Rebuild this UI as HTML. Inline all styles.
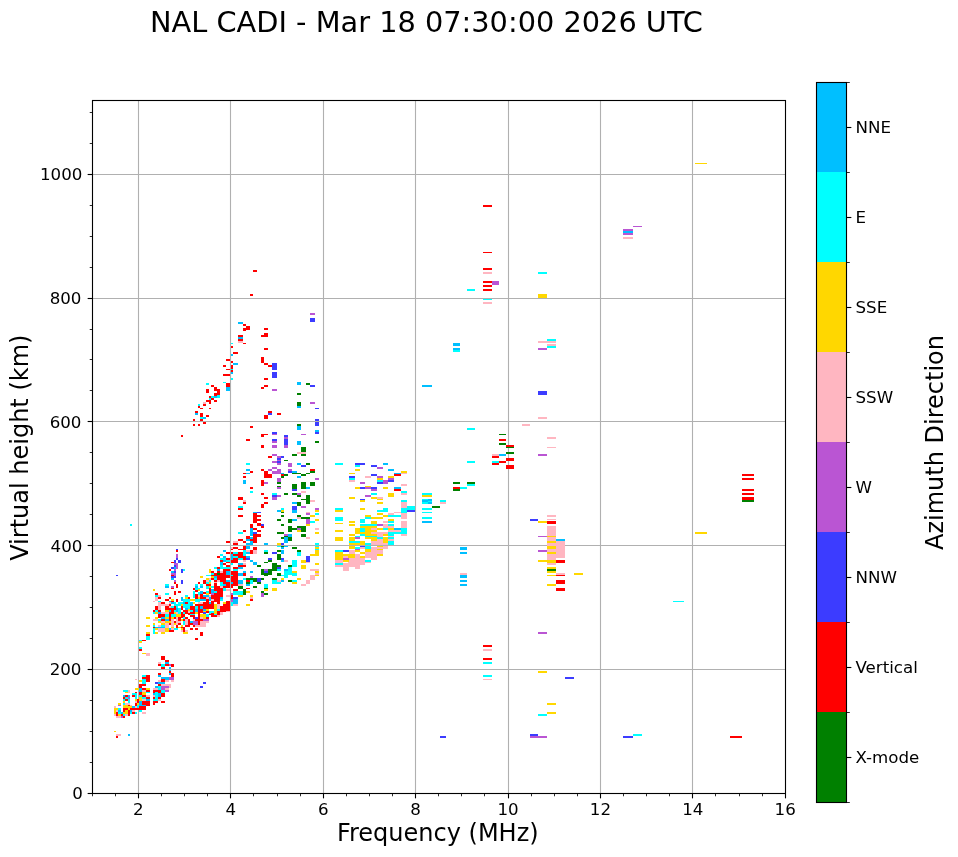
<!DOCTYPE html>
<html lang="en"><head><meta charset="utf-8"><title>NAL CADI - Mar 18 07:30:00 2026 UTC</title>
<style>html,body{margin:0;padding:0;background:#fff;}body{width:958px;height:857px;overflow:hidden;}svg{display:block;will-change:transform;}text{font-family:"DejaVu Sans","Liberation Sans",sans-serif;fill:#000;}</style></head><body>
<svg width="958" height="857" viewBox="0 0 958 857">
<rect x="0" y="0" width="958" height="857" fill="#fff"/>
<g stroke="#b0b0b0" stroke-width="1.11" fill="none">
<line x1="138.50" y1="100.5" x2="138.50" y2="793.5"/>
<line x1="230.50" y1="100.5" x2="230.50" y2="793.5"/>
<line x1="323.50" y1="100.5" x2="323.50" y2="793.5"/>
<line x1="415.50" y1="100.5" x2="415.50" y2="793.5"/>
<line x1="508.50" y1="100.5" x2="508.50" y2="793.5"/>
<line x1="600.50" y1="100.5" x2="600.50" y2="793.5"/>
<line x1="692.50" y1="100.5" x2="692.50" y2="793.5"/>
<line x1="92.5" y1="669.50" x2="785.5" y2="669.50"/>
<line x1="92.5" y1="545.50" x2="785.5" y2="545.50"/>
<line x1="92.5" y1="421.50" x2="785.5" y2="421.50"/>
<line x1="92.5" y1="298.50" x2="785.5" y2="298.50"/>
<line x1="92.5" y1="174.50" x2="785.5" y2="174.50"/>
</g>
<g id="cells" shape-rendering="crispEdges">
<g fill="#ff0000"><rect x="483" y="205" width="9" height="2"/><rect x="483" y="252" width="9" height="1"/><rect x="483" y="268" width="9" height="2"/></g><g fill="#ffb6c1"><rect x="483" y="272" width="9" height="2"/></g><g fill="#ff0000"><rect x="483" y="281" width="9" height="2"/></g><g fill="#ba55d3"><rect x="492" y="281" width="7" height="4"/></g><g fill="#ff0000"><rect x="483" y="285" width="9" height="2"/><rect x="483" y="289" width="9" height="2"/></g><g fill="#00ffff"><rect x="467" y="289" width="8" height="2"/><rect x="483" y="298.5" width="9" height="1.5"/></g><g fill="#ffb6c1"><rect x="483" y="302" width="9" height="2"/></g><g fill="#00ffff"><rect x="538" y="272" width="9" height="2"/></g><g fill="#ffd700"><rect x="538" y="294" width="9" height="4"/></g><g fill="#00bfff"><rect x="453" y="343" width="7" height="3"/><rect x="453" y="348" width="7" height="2"/></g><g fill="#00ffff"><rect x="453" y="350" width="7" height="2"/></g><g fill="#00bfff"><rect x="422" y="385" width="10" height="2"/></g><g fill="#00ffff"><rect x="547" y="339" width="9" height="2"/></g><g fill="#ffb6c1"><rect x="538" y="341" width="18" height="2"/><rect x="547" y="344" width="9" height="2"/></g><g fill="#00ffff"><rect x="547" y="346" width="9" height="2"/></g><g fill="#ba55d3"><rect x="538" y="348" width="9" height="2"/></g><g fill="#3c3cff"><rect x="538" y="391" width="9" height="4"/></g><g fill="#ffb6c1"><rect x="538" y="417" width="9" height="2"/><rect x="522" y="424" width="8" height="2"/></g><g fill="#00ffff"><rect x="467" y="428" width="8" height="2"/></g><g fill="#008000"><rect x="499" y="433.5" width="7" height="1"/></g><g fill="#ff0000"><rect x="499" y="439" width="7" height="2"/></g><g fill="#008000"><rect x="499" y="443" width="7" height="2"/></g><g fill="#ff0000"><rect x="506" y="445" width="8" height="2"/></g><g fill="#008000"><rect x="506" y="447" width="8" height="1"/></g><g fill="#ffb6c1"><rect x="547" y="437" width="9" height="2"/><rect x="547" y="447" width="9" height="1"/></g><g fill="#008000"><rect x="506" y="452" width="8" height="2"/></g><g fill="#ffb6c1"><rect x="492" y="454" width="7" height="2"/></g><g fill="#00bfff"><rect x="499" y="454" width="7" height="2"/></g><g fill="#ff0000"><rect x="492" y="456" width="7" height="2"/></g><g fill="#ba55d3"><rect x="538" y="454" width="9" height="2"/></g><g fill="#ff0000"><rect x="506" y="458" width="8" height="3"/></g><g fill="#00ffff"><rect x="467" y="461" width="8" height="2"/><rect x="492" y="461" width="7" height="2"/></g><g fill="#ff0000"><rect x="499" y="461" width="7" height="2"/><rect x="492" y="463" width="7" height="2"/><rect x="506" y="465" width="8" height="1"/><rect x="506" y="466" width="8" height="3"/></g><g fill="#008000"><rect x="453" y="482" width="7" height="2"/><rect x="467" y="482" width="8" height="2"/></g><g fill="#00ffff"><rect x="467" y="484" width="8" height="2"/></g><g fill="#ff0000"><rect x="453" y="487" width="7" height="2"/></g><g fill="#00ffff"><rect x="460" y="487" width="7" height="2"/></g><g fill="#008000"><rect x="453" y="489" width="7" height="2"/></g><g fill="#00ffff"><rect x="422" y="493" width="10" height="2"/></g><g fill="#ffd700"><rect x="422" y="495" width="10" height="2"/></g><g fill="#00bfff"><rect x="422" y="499" width="10" height="1.5"/></g><g fill="#00ffff"><rect x="422" y="500.5" width="10" height="1.5"/></g><g fill="#00bfff"><rect x="422" y="502" width="10" height="2"/></g><g fill="#00ffff"><rect x="440" y="500" width="6" height="2"/></g><g fill="#ffb6c1"><rect x="440" y="502" width="6" height="2"/></g><g fill="#008000"><rect x="432" y="506" width="8" height="2"/></g><g fill="#00ffff"><rect x="422" y="508" width="10" height="2"/><rect x="422" y="512" width="10" height="1"/><rect x="422" y="517" width="10" height="2"/></g><g fill="#00bfff"><rect x="422" y="521" width="10" height="2"/></g><g fill="#ffb6c1"><rect x="547" y="515" width="9" height="2"/><rect x="547" y="519" width="9" height="1"/></g><g fill="#3c3cff"><rect x="530" y="519" width="8" height="2"/></g><g fill="#ffd700"><rect x="538" y="521" width="9" height="2"/></g><g fill="#ff0000"><rect x="547" y="521" width="9" height="2.5"/></g><g fill="#ffb6c1"><rect x="547" y="526" width="9" height="39"/><rect x="556" y="541" width="9" height="17"/></g><g fill="#ba55d3"><rect x="538" y="536" width="9" height="1"/></g><g fill="#ffd700"><rect x="547" y="536" width="9" height="1"/></g><g fill="#00bfff"><rect x="556" y="539" width="9" height="2"/></g><g fill="#ffd700"><rect x="547" y="541" width="9" height="2"/><rect x="547" y="546" width="9" height="3"/></g><g fill="#ba55d3"><rect x="538" y="550" width="9" height="2"/></g><g fill="#ffd700"><rect x="547" y="552" width="9" height="2"/><rect x="538" y="560" width="18" height="2"/><rect x="547" y="560" width="9" height="3"/></g><g fill="#ff0000"><rect x="556" y="560" width="9" height="3"/></g><g fill="#00bfff"><rect x="460" y="547" width="7" height="3"/><rect x="460" y="552" width="7" height="2"/></g><g fill="#ffb6c1"><rect x="460" y="573" width="7" height="2"/></g><g fill="#00bfff"><rect x="460" y="575" width="7" height="3"/><rect x="460" y="580" width="7" height="2"/><rect x="460" y="584" width="7" height="2"/></g><g fill="#ffd700"><rect x="547" y="567" width="9" height="2"/></g><g fill="#008000"><rect x="547" y="569" width="9" height="2"/></g><g fill="#ffd700"><rect x="547" y="571" width="9" height="2"/><rect x="547" y="575" width="9" height="1"/></g><g fill="#ffb6c1"><rect x="556" y="573" width="9" height="2"/></g><g fill="#ff0000"><rect x="556" y="575" width="9" height="1"/></g><g fill="#ffd700"><rect x="574" y="573" width="9" height="2"/></g><g fill="#ff0000"><rect x="556" y="580" width="9" height="4"/></g><g fill="#ffd700"><rect x="547" y="584" width="9" height="2"/></g><g fill="#ff0000"><rect x="556" y="588" width="9" height="3"/></g><g fill="#ba55d3"><rect x="538" y="632" width="9" height="2"/></g><g fill="#ff0000"><rect x="483" y="645" width="9" height="2"/></g><g fill="#ffb6c1"><rect x="483" y="649" width="9" height="2"/></g><g fill="#ff0000"><rect x="483" y="658" width="9" height="2"/></g><g fill="#00ffff"><rect x="483" y="662" width="9" height="2"/></g><g fill="#ffd700"><rect x="538" y="671" width="9" height="2"/></g><g fill="#3c3cff"><rect x="565" y="677" width="9" height="2"/></g><g fill="#00ffff"><rect x="483" y="675" width="9" height="2"/></g><g fill="#ffb6c1"><rect x="483" y="679" width="9" height="1"/></g><g fill="#ffd700"><rect x="547" y="703" width="9" height="2"/><rect x="547" y="712" width="9" height="2"/></g><g fill="#00ffff"><rect x="538" y="714" width="9" height="2"/></g><g fill="#3c3cff"><rect x="530" y="734" width="8" height="2"/></g><g fill="#ba55d3"><rect x="530" y="736" width="17" height="2"/></g><g fill="#3c3cff"><rect x="440" y="736" width="6" height="2"/></g><g fill="#ffd700"><rect x="695" y="163" width="12" height="1"/></g><g fill="#ba55d3"><rect x="633" y="226" width="9" height="1"/><rect x="623" y="229" width="10" height="6"/></g><g fill="#00bfff"><rect x="623" y="231" width="10" height="2"/></g><g fill="#ffb6c1"><rect x="623" y="237" width="10" height="2"/></g><g fill="#ff0000"><rect x="742" y="474" width="12" height="2"/><rect x="742" y="478" width="12" height="2"/><rect x="742" y="489" width="12" height="2"/><rect x="742" y="493" width="12" height="2"/><rect x="742" y="497" width="12" height="3"/></g><g fill="#008000"><rect x="742" y="500" width="12" height="2"/></g><g fill="#ffd700"><rect x="695" y="532" width="12" height="2"/></g><g fill="#00ffff"><rect x="673" y="601" width="11" height="1"/></g><g fill="#3c3cff"><rect x="623" y="735.5" width="10" height="2.5"/></g><g fill="#00ffff"><rect x="633" y="734" width="9" height="2"/></g><g fill="#ff0000"><rect x="730" y="735.5" width="12" height="2.5"/><rect x="139" y="650" width="3" height="1"/></g><g fill="#ffd700"><rect x="142" y="653" width="4" height="1"/></g><g fill="#ffb6c1"><rect x="146" y="653" width="4" height="3"/></g><g fill="#ff0000"><rect x="161" y="656" width="4" height="4"/><rect x="165" y="660" width="4" height="2"/></g><g fill="#ffb6c1"><rect x="158" y="662" width="3" height="2"/></g><g fill="#00bfff"><rect x="165" y="662" width="4" height="2"/></g><g fill="#ff0000"><rect x="158" y="664" width="3" height="2"/></g><g fill="#00ffff"><rect x="161" y="664" width="4" height="3"/></g><g fill="#ff0000"><rect x="165" y="664" width="4" height="2"/></g><g fill="#ba55d3"><rect x="169" y="664" width="2" height="2"/></g><g fill="#ff0000"><rect x="171" y="664" width="3" height="3"/><rect x="161" y="667" width="4" height="2"/></g><g fill="#00bfff"><rect x="169" y="667" width="2" height="2"/><rect x="169" y="670" width="2" height="1"/></g><g fill="#ff0000"><rect x="169" y="671" width="2" height="2"/><rect x="158" y="673" width="3" height="2"/></g><g fill="#00bfff"><rect x="169" y="673" width="2" height="2"/></g><g fill="#ff0000"><rect x="171" y="673" width="3" height="4"/></g><g fill="#00bfff"><rect x="158" y="675" width="3" height="2"/><rect x="161" y="677" width="8" height="3"/></g><g fill="#ba55d3"><rect x="169" y="677" width="5" height="3"/></g><g fill="#ff0000"><rect x="161" y="679" width="4" height="3"/></g><g fill="#ffb6c1"><rect x="158" y="680" width="3" height="2"/><rect x="165" y="680" width="4" height="2"/><rect x="171" y="680" width="3" height="2"/></g><g fill="#3c3cff"><rect x="155" y="682" width="3" height="2"/></g><g fill="#00bfff"><rect x="158" y="682" width="7" height="2"/></g><g fill="#ff0000"><rect x="158" y="684" width="3" height="2"/></g><g fill="#ffb6c1"><rect x="161" y="684" width="10" height="2"/></g><g fill="#00bfff"><rect x="155" y="686" width="3" height="2"/></g><g fill="#00ffff"><rect x="158" y="686" width="3" height="4"/></g><g fill="#ba55d3"><rect x="161" y="686" width="8" height="2"/></g><g fill="#ffb6c1"><rect x="169" y="686" width="2" height="2"/></g><g fill="#ba55d3"><rect x="161" y="688" width="4" height="2"/></g><g fill="#ffb6c1"><rect x="165" y="688" width="4" height="2"/><rect x="153" y="688" width="5" height="2"/></g><g fill="#ff0000"><rect x="153" y="690" width="8" height="3"/></g><g fill="#00ffff"><rect x="161" y="690" width="4" height="3"/></g><g fill="#ba55d3"><rect x="165" y="690" width="4" height="2"/></g><g fill="#00bfff"><rect x="153" y="693" width="2" height="2"/></g><g fill="#00ffff"><rect x="155" y="692" width="3" height="5"/></g><g fill="#00bfff"><rect x="158" y="693" width="3" height="4"/></g><g fill="#ff0000"><rect x="161" y="693" width="4" height="4"/></g><g fill="#ffb6c1"><rect x="153" y="695" width="2" height="2"/></g><g fill="#ff0000"><rect x="153" y="697" width="2" height="2"/></g><g fill="#00ffff"><rect x="155" y="697" width="3" height="2"/></g><g fill="#ff0000"><rect x="158" y="697" width="3" height="2"/></g><g fill="#00ffff"><rect x="153" y="699" width="5" height="2"/></g><g fill="#ffb6c1"><rect x="158" y="699" width="3" height="2"/></g><g fill="#ff0000"><rect x="153" y="701" width="5" height="2"/><rect x="161" y="701" width="4" height="2"/><rect x="153" y="703" width="2" height="2"/></g><g fill="#00ffff"><rect x="142" y="675" width="4" height="2"/></g><g fill="#ff0000"><rect x="146" y="675" width="4" height="7"/><rect x="142" y="677" width="4" height="2"/></g><g fill="#ffd700"><rect x="139" y="680" width="3" height="2"/></g><g fill="#00ffff"><rect x="142" y="679" width="4" height="5"/></g><g fill="#ff0000"><rect x="139" y="684" width="7" height="2"/><rect x="139" y="686" width="3" height="2"/></g><g fill="#ffd700"><rect x="135" y="688" width="3.5" height="2"/></g><g fill="#00bfff"><rect x="139" y="688" width="3" height="4"/></g><g fill="#ff0000"><rect x="142" y="688" width="4" height="2"/></g><g fill="#ffd700"><rect x="146" y="688" width="4" height="2"/></g><g fill="#ffb6c1"><rect x="142" y="690" width="4" height="2"/></g><g fill="#ff0000"><rect x="146" y="690" width="4" height="2"/></g><g fill="#00ffff"><rect x="146" y="692" width="4" height="1"/></g><g fill="#ff0000"><rect x="139" y="692" width="3" height="3"/></g><g fill="#ffd700"><rect x="142" y="692" width="4" height="3"/></g><g fill="#00ffff"><rect x="139" y="695" width="3" height="2"/></g><g fill="#ff0000"><rect x="142" y="695" width="4" height="2"/></g><g fill="#ffb6c1"><rect x="146" y="695" width="4" height="2"/></g><g fill="#ffd700"><rect x="139" y="697" width="3" height="4"/></g><g fill="#00ffff"><rect x="142" y="697" width="4" height="2"/></g><g fill="#ff0000"><rect x="146" y="697" width="4" height="2"/></g><g fill="#ffb6c1"><rect x="142" y="699" width="4" height="2"/></g><g fill="#00bfff"><rect x="146" y="699" width="4" height="2"/><rect x="139" y="701" width="3" height="5"/></g><g fill="#ff0000"><rect x="142" y="701" width="8" height="5"/></g><g fill="#00bfff"><rect x="142" y="705" width="4" height="1"/></g><g fill="#ff0000"><rect x="139" y="706" width="7" height="4"/></g><g fill="#00ffff"><rect x="139" y="710" width="3" height="2"/></g><g fill="#ffb6c1"><rect x="142" y="712" width="4" height="2"/><rect x="135" y="679" width="2" height="1"/></g><g fill="#00ffff"><rect x="123" y="690" width="5" height="2"/></g><g fill="#ffb6c1"><rect x="128" y="690" width="2" height="3"/></g><g fill="#ffd700"><rect x="125" y="692" width="3" height="1"/></g><g fill="#00ffff"><rect x="132" y="693" width="5" height="2"/></g><g fill="#ff0000"><rect x="135" y="692" width="2" height="1"/></g><g fill="#00bfff"><rect x="123" y="695" width="2" height="2"/></g><g fill="#ff0000"><rect x="125" y="695" width="3" height="2"/></g><g fill="#00bfff"><rect x="128" y="695" width="2" height="2"/></g><g fill="#ff0000"><rect x="132" y="695" width="3" height="2"/></g><g fill="#00ffff"><rect x="135" y="695" width="2" height="4"/></g><g fill="#ff0000"><rect x="123" y="697" width="2" height="2"/></g><g fill="#00ffff"><rect x="125" y="697" width="3" height="2"/></g><g fill="#ba55d3"><rect x="128" y="697" width="2" height="2"/></g><g fill="#00ffff"><rect x="123" y="699" width="2" height="2"/></g><g fill="#ff0000"><rect x="125" y="699" width="3" height="2"/></g><g fill="#00ffff"><rect x="128" y="699" width="2" height="4"/></g><g fill="#ffd700"><rect x="135" y="699" width="2" height="2"/></g><g fill="#ff0000"><rect x="137" y="699" width="1.5" height="5"/></g><g fill="#ffd700"><rect x="123" y="701" width="2" height="2"/></g><g fill="#ffb6c1"><rect x="135" y="701" width="2" height="2"/></g><g fill="#ffd700"><rect x="118" y="703" width="3" height="2"/></g><g fill="#00ffff"><rect x="123" y="703" width="2" height="2"/></g><g fill="#ffb6c1"><rect x="125" y="703" width="5" height="2"/></g><g fill="#ff0000"><rect x="135" y="703" width="2" height="3"/></g><g fill="#ffd700"><rect x="137" y="703" width="1.5" height="3"/></g><g fill="#ba55d3"><rect x="118" y="705" width="3" height="1"/></g><g fill="#ffd700"><rect x="123" y="705" width="5" height="3"/></g><g fill="#ff0000"><rect x="128" y="705" width="2" height="1"/></g><g fill="#ffb6c1"><rect x="130" y="705" width="2" height="1"/><rect x="114" y="706" width="2" height="2"/></g><g fill="#ffd700"><rect x="128" y="706" width="4" height="2"/></g><g fill="#00bfff"><rect x="132" y="706" width="3" height="2"/></g><g fill="#ffb6c1"><rect x="135" y="706" width="2" height="2"/></g><g fill="#00ffff"><rect x="137" y="705" width="1.5" height="3"/></g><g fill="#ffd700"><rect x="114" y="708" width="4" height="2"/></g><g fill="#00ffff"><rect x="118" y="708" width="3" height="2"/></g><g fill="#ff0000"><rect x="123" y="708" width="5" height="2"/></g><g fill="#ffd700"><rect x="128" y="708" width="2" height="2"/></g><g fill="#ff0000"><rect x="130" y="708" width="8.5" height="2"/></g><g fill="#ffd700"><rect x="114" y="710" width="2" height="4"/></g><g fill="#ffb6c1"><rect x="116" y="710" width="2" height="2"/></g><g fill="#00bfff"><rect x="118" y="710" width="3" height="2"/></g><g fill="#ff0000"><rect x="123" y="710" width="2" height="2"/></g><g fill="#ffd700"><rect x="125" y="710" width="3" height="4"/></g><g fill="#ff0000"><rect x="128" y="710" width="2" height="2"/></g><g fill="#00bfff"><rect x="130" y="710" width="2" height="2"/></g><g fill="#ffb6c1"><rect x="132" y="710" width="3" height="2"/></g><g fill="#ff0000"><rect x="116" y="712" width="2" height="4"/></g><g fill="#00ffff"><rect x="118" y="712" width="3" height="2"/></g><g fill="#00bfff"><rect x="121" y="712" width="2" height="2"/></g><g fill="#ffd700"><rect x="123" y="712" width="2" height="2"/></g><g fill="#ff0000"><rect x="128" y="712" width="2" height="4"/></g><g fill="#00ffff"><rect x="130" y="712" width="2" height="2"/></g><g fill="#ff0000"><rect x="132" y="712" width="3" height="2"/></g><g fill="#00ffff"><rect x="135" y="712" width="2" height="2"/></g><g fill="#ffb6c1"><rect x="114" y="714" width="2" height="2"/></g><g fill="#ffd700"><rect x="118" y="714" width="3" height="2"/></g><g fill="#ff0000"><rect x="121" y="714" width="2" height="2"/></g><g fill="#00ffff"><rect x="123" y="714" width="2" height="2"/></g><g fill="#ffb6c1"><rect x="125" y="714" width="3" height="2"/><rect x="116" y="716" width="5" height="2"/></g><g fill="#ba55d3"><rect x="121" y="716" width="2" height="2"/></g><g fill="#ff0000"><rect x="123" y="716" width="2" height="2"/></g><g fill="#3c3cff"><rect x="203" y="682" width="3" height="2"/><rect x="200" y="686" width="3" height="2"/></g><g fill="#ffd700"><rect x="114" y="731" width="2" height="1"/></g><g fill="#ffb6c1"><rect x="116" y="734" width="5" height="2"/></g><g fill="#ff0000"><rect x="116" y="736" width="2" height="2"/></g><g fill="#00bfff"><rect x="128" y="734" width="2" height="2"/><rect x="171" y="578" width="3" height="2"/></g><g fill="#ba55d3"><rect x="174" y="580" width="2" height="2"/></g><g fill="#3c3cff"><rect x="181" y="580" width="2" height="4"/></g><g fill="#ff0000"><rect x="174" y="582" width="2" height="2"/><rect x="176" y="584" width="2" height="4"/></g><g fill="#00ffff"><rect x="165" y="584" width="4" height="2"/></g><g fill="#00bfff"><rect x="165" y="586" width="4" height="2"/></g><g fill="#ba55d3"><rect x="171" y="586" width="3" height="2"/></g><g fill="#ff0000"><rect x="171" y="588" width="3" height="1"/></g><g fill="#ffd700"><rect x="153" y="589" width="2" height="2"/></g><g fill="#ff0000"><rect x="174" y="591" width="2" height="4"/><rect x="178" y="591" width="3" height="2"/><rect x="155" y="593" width="3" height="2"/></g><g fill="#00ffff"><rect x="165" y="593" width="4" height="2"/><rect x="155" y="595" width="3" height="2"/></g><g fill="#ffb6c1"><rect x="158" y="595" width="3" height="2"/></g><g fill="#00ffff"><rect x="185" y="595" width="3" height="2"/></g><g fill="#ffb6c1"><rect x="155" y="597" width="3" height="4"/></g><g fill="#ff0000"><rect x="158" y="597" width="3" height="2"/><rect x="169" y="597" width="2" height="2"/></g><g fill="#00bfff"><rect x="181" y="597" width="2" height="4"/></g><g fill="#ffd700"><rect x="185" y="597" width="3" height="2"/></g><g fill="#ff0000"><rect x="165" y="599" width="4" height="2"/></g><g fill="#ffd700"><rect x="171" y="599" width="3" height="2"/></g><g fill="#ff0000"><rect x="176" y="599" width="2" height="3"/></g><g fill="#00ffff"><rect x="183" y="599" width="5" height="3"/></g><g fill="#ffb6c1"><rect x="153" y="601" width="2" height="1"/></g><g fill="#00ffff"><rect x="158" y="601" width="3" height="1"/></g><g fill="#00bfff"><rect x="169" y="601" width="2" height="1"/></g><g fill="#ff0000"><rect x="171" y="601" width="3" height="1"/></g><g fill="#ffb6c1"><rect x="158" y="602" width="3" height="8"/></g><g fill="#ff0000"><rect x="161" y="602" width="4" height="2"/></g><g fill="#ffb6c1"><rect x="169" y="602" width="2" height="2"/></g><g fill="#00bfff"><rect x="171" y="602" width="3" height="2"/></g><g fill="#00ffff"><rect x="174" y="602" width="2" height="4"/><rect x="178" y="602" width="5" height="2"/></g><g fill="#00bfff"><rect x="183" y="602" width="2" height="2"/></g><g fill="#ff0000"><rect x="185" y="602" width="3" height="2"/></g><g fill="#ffb6c1"><rect x="161" y="604" width="8" height="2"/></g><g fill="#ff0000"><rect x="169" y="604" width="2" height="2"/></g><g fill="#00ffff"><rect x="176" y="604" width="5" height="2"/></g><g fill="#ffd700"><rect x="181" y="604" width="2" height="2"/></g><g fill="#00ffff"><rect x="183" y="604" width="5" height="4"/></g><g fill="#ff0000"><rect x="155" y="606" width="3" height="4"/><rect x="165" y="606" width="4" height="4"/></g><g fill="#ffb6c1"><rect x="169" y="606" width="2" height="2"/></g><g fill="#00ffff"><rect x="171" y="606" width="3" height="2"/></g><g fill="#ff0000"><rect x="174" y="606" width="2" height="4"/></g><g fill="#00ffff"><rect x="176" y="606" width="2" height="2"/></g><g fill="#ff0000"><rect x="181" y="606" width="2" height="4"/><rect x="169" y="608" width="5" height="2"/></g><g fill="#00bfff"><rect x="176" y="608" width="2" height="4"/></g><g fill="#00ffff"><rect x="178" y="608" width="3" height="6"/></g><g fill="#00bfff"><rect x="185" y="608" width="3" height="2"/></g><g fill="#ff0000"><rect x="153" y="610" width="2" height="2"/></g><g fill="#00ffff"><rect x="155" y="610" width="3" height="2"/></g><g fill="#ff0000"><rect x="158" y="610" width="3" height="2"/></g><g fill="#ffd700"><rect x="165" y="610" width="4" height="2"/></g><g fill="#00bfff"><rect x="169" y="610" width="2" height="2"/></g><g fill="#ff0000"><rect x="171" y="610" width="3" height="4"/></g><g fill="#00ffff"><rect x="174" y="610" width="2" height="2"/></g><g fill="#ff0000"><rect x="183" y="610" width="5" height="4"/></g><g fill="#00ffff"><rect x="153" y="612" width="2" height="2"/></g><g fill="#ffd700"><rect x="155" y="612" width="3" height="2"/></g><g fill="#00bfff"><rect x="158" y="612" width="3" height="3"/></g><g fill="#ffb6c1"><rect x="161" y="612" width="8" height="2"/></g><g fill="#ff0000"><rect x="169" y="612" width="2" height="9"/></g><g fill="#ffd700"><rect x="174" y="612" width="2" height="2"/></g><g fill="#ffb6c1"><rect x="176" y="612" width="2" height="3"/></g><g fill="#ff0000"><rect x="181" y="612" width="2" height="6"/></g><g fill="#00ffff"><rect x="183" y="612" width="2" height="2"/></g><g fill="#ff0000"><rect x="158" y="614" width="7" height="4"/></g><g fill="#00ffff"><rect x="165" y="614" width="4" height="3"/><rect x="171" y="614" width="5" height="3"/></g><g fill="#ffd700"><rect x="176" y="614" width="5" height="3"/></g><g fill="#ff0000"><rect x="183" y="614" width="2" height="3"/></g><g fill="#ffd700"><rect x="146" y="617" width="4" height="2"/><rect x="155" y="617" width="3" height="2"/></g><g fill="#00bfff"><rect x="161" y="617" width="4" height="2"/></g><g fill="#ffd700"><rect x="165" y="617" width="4" height="2"/><rect x="171" y="617" width="3" height="2"/></g><g fill="#ff0000"><rect x="174" y="617" width="2" height="2"/></g><g fill="#ffb6c1"><rect x="176" y="617" width="2" height="8"/></g><g fill="#ff0000"><rect x="178" y="617" width="3" height="4"/></g><g fill="#00ffff"><rect x="183" y="617" width="2" height="2"/></g><g fill="#ff0000"><rect x="185" y="617" width="3" height="2"/></g><g fill="#ffb6c1"><rect x="153" y="619" width="5" height="2"/></g><g fill="#00ffff"><rect x="158" y="619" width="3" height="2"/></g><g fill="#ff0000"><rect x="161" y="619" width="4" height="2"/></g><g fill="#00bfff"><rect x="165" y="619" width="4" height="2"/></g><g fill="#ffb6c1"><rect x="171" y="619" width="3" height="7.5"/></g><g fill="#ffd700"><rect x="181" y="619" width="2" height="2"/></g><g fill="#ff0000"><rect x="183" y="619" width="2" height="2"/></g><g fill="#ffd700"><rect x="158" y="621" width="3" height="2"/></g><g fill="#ffb6c1"><rect x="161" y="621" width="4" height="2"/></g><g fill="#ffd700"><rect x="165" y="621" width="6" height="2"/></g><g fill="#ff0000"><rect x="174" y="621" width="2" height="2"/></g><g fill="#ffb6c1"><rect x="178" y="621" width="3" height="2"/></g><g fill="#00ffff"><rect x="183" y="621" width="2" height="4"/></g><g fill="#ffb6c1"><rect x="185" y="619" width="3" height="6"/></g><g fill="#ffd700"><rect x="153" y="623" width="2" height="2"/><rect x="161" y="623" width="4" height="2"/></g><g fill="#ffb6c1"><rect x="165" y="623" width="4" height="5"/></g><g fill="#ff0000"><rect x="169" y="623" width="2" height="2"/></g><g fill="#ffd700"><rect x="174" y="623" width="2" height="2"/></g><g fill="#ff0000"><rect x="178" y="623" width="3" height="2"/></g><g fill="#ffd700"><rect x="146" y="625" width="4" height="2"/></g><g fill="#00ffff"><rect x="153" y="625" width="2" height="2"/></g><g fill="#ffb6c1"><rect x="158" y="625" width="3" height="2"/></g><g fill="#00ffff"><rect x="161" y="625" width="4" height="2"/></g><g fill="#ff0000"><rect x="176" y="625" width="2" height="3"/></g><g fill="#ffd700"><rect x="181" y="625" width="2" height="2"/></g><g fill="#ff0000"><rect x="185" y="625" width="3" height="2"/><rect x="153" y="627" width="2" height="1"/></g><g fill="#00bfff"><rect x="155" y="627" width="10" height="1"/></g><g fill="#ffd700"><rect x="171" y="627" width="3" height="1"/><rect x="178" y="627" width="3" height="1"/></g><g fill="#ff0000"><rect x="181" y="627" width="4" height="2"/></g><g fill="#00ffff"><rect x="153" y="628" width="2" height="6"/></g><g fill="#ffd700"><rect x="155" y="628" width="3" height="2"/></g><g fill="#ffb6c1"><rect x="158" y="628" width="7" height="4"/></g><g fill="#ffd700"><rect x="165" y="628" width="4" height="4"/></g><g fill="#00bfff"><rect x="169" y="628" width="2" height="2"/></g><g fill="#ffb6c1"><rect x="171" y="628" width="3" height="2"/></g><g fill="#00ffff"><rect x="174" y="628" width="4" height="2"/></g><g fill="#ffd700"><rect x="181" y="628" width="2" height="2"/></g><g fill="#ff0000"><rect x="183" y="629" width="2" height="3"/><rect x="169" y="630" width="5" height="2"/></g><g fill="#ffb6c1"><rect x="181" y="630" width="2" height="2"/><rect x="185" y="630" width="3" height="2"/></g><g fill="#ffd700"><rect x="146" y="632" width="4" height="2"/><rect x="155" y="632" width="3" height="2"/><rect x="161" y="632" width="4" height="2"/><rect x="183" y="632" width="5" height="2"/></g><g fill="#ff0000"><rect x="146" y="634" width="4" height="2"/></g><g fill="#00ffff"><rect x="146" y="636" width="4" height="4"/><rect x="139" y="640" width="3" height="1"/></g><g fill="#ff0000"><rect x="142" y="640" width="4" height="1"/></g><g fill="#ffd700"><rect x="139" y="641" width="3" height="2"/></g><g fill="#00ffff"><rect x="139" y="647" width="3" height="2"/></g><g fill="#ff0000"><rect x="139" y="649" width="3" height="1"/><rect x="211" y="578" width="3" height="2"/><rect x="217" y="578" width="9" height="2"/><rect x="203" y="580" width="3" height="4"/><rect x="214" y="580" width="3" height="8"/><rect x="220" y="580" width="6" height="2"/><rect x="223" y="582" width="7" height="6"/><rect x="198" y="582" width="2" height="2"/><rect x="206" y="584" width="5" height="2"/><rect x="217" y="586" width="3" height="2"/><rect x="193" y="588" width="2" height="2"/><rect x="214" y="588" width="9" height="14.5"/><rect x="209" y="588" width="2" height="6"/><rect x="195" y="590" width="3" height="2"/><rect x="203" y="592" width="3" height="2"/><rect x="195" y="594" width="3" height="5"/><rect x="200" y="594" width="3" height="4"/><rect x="188" y="597" width="2" height="2"/><rect x="203" y="596" width="6" height="4"/><rect x="211" y="594" width="3" height="11.5"/><rect x="198" y="598" width="5" height="2"/><rect x="206" y="600" width="3" height="2"/><rect x="200" y="602" width="9" height="2"/><rect x="217" y="602" width="3" height="2"/><rect x="226" y="601" width="4" height="10.5"/><rect x="195" y="604" width="19" height="2"/><rect x="223" y="604" width="3" height="7.5"/><rect x="190" y="606" width="5" height="10.5"/><rect x="198" y="606" width="2" height="13"/><rect x="203" y="606" width="11" height="2.5"/><rect x="220" y="606" width="3" height="5.5"/><rect x="200" y="608.5" width="3" height="4"/><rect x="206" y="608.5" width="3" height="4"/><rect x="217" y="610.5" width="3" height="4"/><rect x="188" y="612.5" width="2" height="2"/><rect x="209" y="612.5" width="5" height="2"/><rect x="211" y="614.5" width="6" height="2"/><rect x="193" y="616.5" width="2" height="2.5"/><rect x="200" y="616.5" width="3" height="4.5"/><rect x="206" y="616.5" width="3" height="2.5"/><rect x="188" y="619" width="2" height="7.5"/><rect x="195" y="619" width="5" height="2"/><rect x="198" y="621" width="2" height="4"/><rect x="190" y="623" width="3" height="2"/><rect x="193" y="625" width="2" height="2"/><rect x="190" y="628" width="3" height="2"/><rect x="195" y="628" width="3" height="2"/><rect x="200" y="632" width="3" height="4"/><rect x="195" y="638" width="3" height="2"/></g><g fill="#ffd700"><rect x="206" y="578" width="3" height="2"/></g><g fill="#ffb6c1"><rect x="209" y="578" width="2" height="2"/></g><g fill="#00ffff"><rect x="214" y="578" width="3" height="2"/></g><g fill="#00bfff"><rect x="226" y="580" width="4" height="2"/></g><g fill="#ffb6c1"><rect x="206" y="580" width="3" height="2"/></g><g fill="#00ffff"><rect x="209" y="580" width="2" height="2"/></g><g fill="#ffb6c1"><rect x="217" y="580" width="3" height="2"/></g><g fill="#00ffff"><rect x="206" y="582" width="3" height="2"/></g><g fill="#ffd700"><rect x="209" y="582" width="2" height="2"/></g><g fill="#ffb6c1"><rect x="214" y="582" width="3" height="1"/></g><g fill="#00ffff"><rect x="220" y="582" width="3" height="4"/><rect x="195" y="584" width="3" height="2"/><rect x="200" y="584" width="3" height="2"/></g><g fill="#00bfff"><rect x="223" y="584" width="3" height="2"/><rect x="195" y="586" width="3" height="2"/><rect x="200" y="586" width="3" height="2"/></g><g fill="#00ffff"><rect x="206" y="586" width="3" height="3"/></g><g fill="#ffd700"><rect x="209" y="586" width="2" height="2"/></g><g fill="#00ffff"><rect x="211" y="586" width="3" height="2"/></g><g fill="#ffb6c1"><rect x="220" y="586" width="3" height="2"/></g><g fill="#00ffff"><rect x="195" y="588" width="5" height="2"/></g><g fill="#ffd700"><rect x="198" y="589" width="2" height="2"/></g><g fill="#00ffff"><rect x="223" y="588" width="3" height="3"/></g><g fill="#ffb6c1"><rect x="226" y="589" width="4" height="2"/></g><g fill="#00bfff"><rect x="211" y="589" width="3" height="4"/></g><g fill="#00ffff"><rect x="193" y="591" width="2" height="7"/></g><g fill="#00bfff"><rect x="200" y="591" width="3" height="3"/></g><g fill="#00ffff"><rect x="206" y="591" width="3" height="2"/><rect x="214" y="591" width="3" height="2"/></g><g fill="#ffd700"><rect x="206" y="593" width="3" height="2"/></g><g fill="#ba55d3"><rect x="211" y="593" width="3" height="2"/></g><g fill="#00ffff"><rect x="198" y="592" width="2" height="3"/></g><g fill="#00bfff"><rect x="203" y="595" width="6" height="2"/></g><g fill="#ffb6c1"><rect x="198" y="595" width="2" height="2"/><rect x="209" y="595" width="2" height="2"/><rect x="226" y="595" width="4" height="2"/></g><g fill="#ffd700"><rect x="198" y="597" width="2" height="2"/></g><g fill="#ffb6c1"><rect x="206" y="597" width="3" height="2"/></g><g fill="#00bfff"><rect x="209" y="597" width="2" height="4"/><rect x="220" y="597" width="3" height="2"/></g><g fill="#00ffff"><rect x="220" y="599" width="3" height="2"/></g><g fill="#ffd700"><rect x="190" y="599" width="5" height="2"/></g><g fill="#00ffff"><rect x="195" y="599" width="5" height="3"/></g><g fill="#00bfff"><rect x="200" y="599" width="6" height="2"/></g><g fill="#ffb6c1"><rect x="211" y="599" width="3" height="2"/></g><g fill="#00ffff"><rect x="188" y="599" width="2" height="9.5"/></g><g fill="#00bfff"><rect x="190" y="602" width="3" height="4"/></g><g fill="#ffd700"><rect x="193" y="602" width="2" height="2"/></g><g fill="#ffb6c1"><rect x="198" y="602" width="5" height="2"/></g><g fill="#00bfff"><rect x="209" y="602" width="2" height="2"/></g><g fill="#ffffff"><rect x="214" y="602" width="3" height="2"/><rect x="220" y="601" width="3" height="5"/></g><g fill="#ffd700"><rect x="223" y="602" width="3" height="2"/></g><g fill="#00ffff"><rect x="195" y="606" width="3" height="2.5"/></g><g fill="#00bfff"><rect x="200" y="606" width="3" height="2.5"/></g><g fill="#ffd700"><rect x="214" y="604" width="3" height="10"/></g><g fill="#ffb6c1"><rect x="217" y="604" width="3" height="4.5"/></g><g fill="#00ffff"><rect x="217" y="608.5" width="3" height="2"/></g><g fill="#ffd700"><rect x="188" y="608.5" width="2" height="2"/></g><g fill="#00ffff"><rect x="190" y="610" width="3" height="2"/></g><g fill="#00bfff"><rect x="195" y="608.5" width="3" height="3.5"/><rect x="203" y="608.5" width="3" height="2"/></g><g fill="#ffd700"><rect x="206" y="608.5" width="3" height="2"/></g><g fill="#ffffff"><rect x="211" y="608.5" width="3" height="2"/></g><g fill="#00ffff"><rect x="209" y="610.5" width="5" height="2"/><rect x="209" y="612.5" width="2" height="1.5"/></g><g fill="#ffd700"><rect x="203" y="610.5" width="3" height="1.5"/></g><g fill="#3c3cff"><rect x="203" y="612" width="3" height="2"/></g><g fill="#ffb6c1"><rect x="188" y="610.5" width="2" height="2"/></g><g fill="#ffd700"><rect x="195" y="612" width="3" height="2"/></g><g fill="#ffb6c1"><rect x="220" y="612" width="3" height="3"/><rect x="226" y="610.5" width="4" height="1"/></g><g fill="#00ffff"><rect x="190" y="614" width="5" height="1"/></g><g fill="#ffffff"><rect x="195" y="614" width="3" height="2.5"/></g><g fill="#ffd700"><rect x="200" y="614" width="6" height="3"/></g><g fill="#00ffff"><rect x="206" y="614" width="3" height="3"/><rect x="214" y="614" width="3" height="1"/></g><g fill="#ffb6c1"><rect x="217" y="614.5" width="3" height="2.5"/></g><g fill="#3c3cff"><rect x="195" y="617" width="3" height="2"/></g><g fill="#ffb6c1"><rect x="200" y="617" width="3" height="2"/></g><g fill="#ffd700"><rect x="203" y="617" width="3" height="2"/></g><g fill="#ba55d3"><rect x="203" y="619" width="6" height="2"/></g><g fill="#ffb6c1"><rect x="193" y="619" width="2" height="2"/></g><g fill="#00bfff"><rect x="190" y="621" width="3" height="2"/></g><g fill="#ba55d3"><rect x="193" y="621" width="5" height="4"/></g><g fill="#ffb6c1"><rect x="200" y="621" width="9" height="2"/><rect x="200" y="623" width="6" height="3.5"/><rect x="195" y="625" width="5" height="2"/></g><g fill="#ff0000"><rect x="231" y="578" width="7" height="8"/><rect x="231" y="586" width="2" height="2"/><rect x="233" y="589" width="5" height="2"/><rect x="231" y="593" width="2" height="6"/></g><g fill="#00ffff"><rect x="243" y="578" width="3" height="2"/></g><g fill="#008000"><rect x="246" y="578" width="18" height="2"/></g><g fill="#3c3cff"><rect x="257" y="578" width="4" height="4"/></g><g fill="#00bfff"><rect x="238" y="580" width="5" height="4"/></g><g fill="#ff0000"><rect x="246" y="580" width="4" height="2"/></g><g fill="#00ffff"><rect x="250" y="580" width="3" height="4"/></g><g fill="#008000"><rect x="253" y="580" width="4" height="2"/><rect x="246" y="582" width="4" height="2"/><rect x="257" y="582" width="4" height="2"/></g><g fill="#00bfff"><rect x="231" y="582" width="2" height="2"/></g><g fill="#ffb6c1"><rect x="238" y="584" width="5" height="2"/></g><g fill="#00bfff"><rect x="246" y="584" width="4" height="2"/></g><g fill="#008000"><rect x="238" y="586" width="5" height="3"/><rect x="253" y="586" width="4" height="2"/></g><g fill="#00ffff"><rect x="264" y="584" width="4" height="4"/></g><g fill="#ff0000"><rect x="246" y="588" width="4" height="1"/></g><g fill="#008000"><rect x="243" y="589" width="3" height="6"/><rect x="264" y="588" width="4" height="1"/></g><g fill="#ffd700"><rect x="264" y="589" width="4" height="2"/></g><g fill="#00ffff"><rect x="233" y="591" width="10" height="4"/></g><g fill="#ffd700"><rect x="246" y="591" width="4" height="2"/></g><g fill="#008000"><rect x="261" y="591" width="3" height="2"/></g><g fill="#ba55d3"><rect x="231" y="593" width="2" height="2"/></g><g fill="#008000"><rect x="264" y="593" width="4" height="2"/></g><g fill="#ba55d3"><rect x="261" y="593" width="3" height="4"/></g><g fill="#ffd700"><rect x="238" y="595" width="5" height="2"/><rect x="250" y="595" width="3" height="2"/></g><g fill="#3c3cff"><rect x="233" y="597" width="5" height="2"/></g><g fill="#ffb6c1"><rect x="250" y="597" width="3" height="2"/></g><g fill="#ba55d3"><rect x="231" y="599" width="2" height="3"/></g><g fill="#00bfff"><rect x="233" y="599" width="5" height="5"/></g><g fill="#ff0000"><rect x="250" y="599" width="3" height="2"/></g><g fill="#00ffff"><rect x="231" y="602" width="2" height="4"/></g><g fill="#ffb6c1"><rect x="233" y="604" width="5" height="2"/></g><g fill="#ffd700"><rect x="246" y="604" width="4" height="2"/></g><g fill="#008000"><rect x="272" y="578" width="5" height="2"/></g><g fill="#ffd700"><rect x="281" y="578" width="3" height="2"/><rect x="297" y="578" width="4" height="2"/></g><g fill="#ffb6c1"><rect x="310" y="578" width="5" height="2"/></g><g fill="#00ffff"><rect x="272" y="580" width="5" height="4"/></g><g fill="#ffb6c1"><rect x="277" y="580" width="4" height="2"/></g><g fill="#00bfff"><rect x="281" y="580" width="3" height="2"/></g><g fill="#008000"><rect x="288" y="580" width="4" height="2"/></g><g fill="#00ffff"><rect x="292" y="580" width="5" height="2"/></g><g fill="#ffb6c1"><rect x="306" y="580" width="4" height="4"/></g><g fill="#00ffff"><rect x="277" y="582" width="4" height="2"/></g><g fill="#ffd700"><rect x="292" y="582" width="5" height="2"/></g><g fill="#ffb6c1"><rect x="301" y="584" width="5" height="2"/></g><g fill="#ffd700"><rect x="272" y="588" width="5" height="3"/></g><g fill="#00ffff"><rect x="130" y="524" width="2" height="2"/></g><g fill="#3c3cff"><rect x="116" y="575" width="2" height="1"/><rect x="176" y="549" width="2" height="1"/></g><g fill="#ff0000"><rect x="176" y="550" width="2" height="2"/></g><g fill="#ba55d3"><rect x="176" y="554" width="2" height="4"/></g><g fill="#3c3cff"><rect x="176" y="558" width="2" height="2"/><rect x="174" y="560" width="2" height="3"/><rect x="178" y="560" width="3" height="3"/></g><g fill="#ff0000"><rect x="171" y="562" width="3" height="1"/></g><g fill="#ba55d3"><rect x="174" y="563" width="4" height="2"/><rect x="176" y="565" width="2" height="4"/></g><g fill="#3c3cff"><rect x="174" y="565" width="2" height="2"/><rect x="171" y="567" width="3" height="2"/></g><g fill="#00bfff"><rect x="174" y="567" width="2" height="2"/></g><g fill="#ff0000"><rect x="169" y="569" width="2" height="2"/></g><g fill="#ba55d3"><rect x="174" y="569" width="2" height="2"/></g><g fill="#3c3cff"><rect x="181" y="569" width="2" height="4"/></g><g fill="#00ffff"><rect x="183" y="569" width="2" height="2"/></g><g fill="#00bfff"><rect x="171" y="571" width="3" height="2"/></g><g fill="#3c3cff"><rect x="174" y="571" width="2" height="2"/></g><g fill="#ba55d3"><rect x="171" y="573" width="5" height="2"/></g><g fill="#ff0000"><rect x="171" y="575" width="3" height="1"/></g><g fill="#ba55d3"><rect x="174" y="575" width="2" height="1"/></g><g fill="#3c3cff"><rect x="171" y="576" width="5" height="2"/></g><g fill="#00ffff"><rect x="238" y="506" width="5" height="2"/></g><g fill="#ff0000"><rect x="261" y="506" width="3" height="2"/><rect x="238" y="508" width="5" height="2"/></g><g fill="#00bfff"><rect x="253" y="512" width="4" height="1"/></g><g fill="#3c3cff"><rect x="257" y="512" width="4" height="1"/></g><g fill="#ff0000"><rect x="253" y="513" width="4" height="10"/><rect x="257" y="515" width="4" height="2"/><rect x="238" y="515" width="5" height="2"/><rect x="257" y="519" width="4" height="2"/><rect x="257" y="523" width="4" height="3"/><rect x="250" y="524" width="3" height="4"/></g><g fill="#3c3cff"><rect x="261" y="524" width="3" height="2"/></g><g fill="#ff0000"><rect x="261" y="526" width="3" height="2"/></g><g fill="#00bfff"><rect x="250" y="528" width="3" height="8"/></g><g fill="#ff0000"><rect x="253" y="528" width="4" height="2"/><rect x="243" y="530" width="3" height="2"/><rect x="257" y="530" width="4" height="2"/></g><g fill="#00ffff"><rect x="238" y="532" width="5" height="2"/></g><g fill="#3c3cff"><rect x="253" y="532" width="4" height="2"/></g><g fill="#ff0000"><rect x="253" y="534" width="4" height="9"/><rect x="257" y="534" width="4" height="3"/><rect x="246" y="536" width="4" height="3"/></g><g fill="#00bfff"><rect x="250" y="537" width="3" height="2"/></g><g fill="#ff0000"><rect x="238" y="539" width="5" height="2"/></g><g fill="#00bfff"><rect x="246" y="539" width="4" height="2"/></g><g fill="#ff0000"><rect x="250" y="539" width="3" height="2"/><rect x="226" y="541" width="4" height="2"/></g><g fill="#ffb6c1"><rect x="233" y="541" width="5" height="2"/></g><g fill="#ff0000"><rect x="243" y="541" width="3" height="2"/></g><g fill="#00bfff"><rect x="250" y="541" width="3" height="4"/></g><g fill="#ff0000"><rect x="233" y="543" width="5" height="2"/></g><g fill="#00bfff"><rect x="246" y="543" width="4" height="2"/><rect x="264" y="543" width="4" height="2"/></g><g fill="#ffb6c1"><rect x="231" y="547" width="2" height="2"/></g><g fill="#ff0000"><rect x="233" y="547" width="5" height="2"/><rect x="243" y="546" width="3" height="4"/></g><g fill="#00bfff"><rect x="246" y="546" width="4" height="3"/></g><g fill="#ff0000"><rect x="253" y="547" width="4" height="3"/><rect x="231" y="549" width="2" height="1"/><rect x="238" y="549" width="5" height="1"/></g><g fill="#00bfff"><rect x="223" y="550" width="3" height="2"/></g><g fill="#ffb6c1"><rect x="246" y="550" width="4" height="2"/></g><g fill="#ff0000"><rect x="250" y="550" width="3" height="4"/></g><g fill="#ffb6c1"><rect x="253" y="550" width="4" height="4"/></g><g fill="#00ffff"><rect x="264" y="550" width="4" height="2"/></g><g fill="#008000"><rect x="264" y="552" width="4" height="2"/></g><g fill="#00ffff"><rect x="243" y="550" width="3" height="6"/></g><g fill="#ff0000"><rect x="226" y="552" width="4" height="2"/><rect x="231" y="552" width="2" height="2"/></g><g fill="#00ffff"><rect x="233" y="552" width="5" height="2"/></g><g fill="#ff0000"><rect x="238" y="552" width="5" height="6"/></g><g fill="#00bfff"><rect x="246" y="552" width="4" height="2"/></g><g fill="#00ffff"><rect x="220" y="554" width="3" height="2"/></g><g fill="#00bfff"><rect x="231" y="554" width="2" height="6"/></g><g fill="#ff0000"><rect x="233" y="554" width="5" height="2"/><rect x="217" y="556" width="3" height="2"/></g><g fill="#00bfff"><rect x="223" y="556" width="3" height="2"/></g><g fill="#00ffff"><rect x="233" y="556" width="5" height="2"/></g><g fill="#ff0000"><rect x="243" y="556" width="3" height="4"/></g><g fill="#00bfff"><rect x="246" y="556" width="4" height="2"/></g><g fill="#00ffff"><rect x="220" y="558" width="6" height="2"/></g><g fill="#ff0000"><rect x="226" y="558" width="4" height="2"/><rect x="233" y="558" width="5" height="5"/></g><g fill="#00ffff"><rect x="238" y="558" width="5" height="2"/></g><g fill="#3c3cff"><rect x="246" y="558" width="4" height="2"/></g><g fill="#ff0000"><rect x="220" y="560" width="3" height="2"/></g><g fill="#00bfff"><rect x="223" y="560" width="3" height="2"/></g><g fill="#00ffff"><rect x="226" y="560" width="4" height="2"/></g><g fill="#ff0000"><rect x="231" y="560" width="2" height="3"/></g><g fill="#ffb6c1"><rect x="243" y="560" width="3" height="2"/></g><g fill="#00bfff"><rect x="250" y="560" width="3" height="2"/><rect x="220" y="562" width="3" height="4"/></g><g fill="#ff0000"><rect x="223" y="563" width="3" height="2"/><rect x="226" y="562" width="4" height="1"/></g><g fill="#00ffff"><rect x="231" y="563" width="2" height="2"/></g><g fill="#00bfff"><rect x="238" y="563" width="5" height="2"/></g><g fill="#ffb6c1"><rect x="243" y="563" width="3" height="2"/></g><g fill="#00bfff"><rect x="253" y="562" width="4" height="3"/></g><g fill="#008000"><rect x="264" y="562" width="4" height="1"/></g><g fill="#00ffff"><rect x="220" y="565" width="3" height="4"/></g><g fill="#ff0000"><rect x="226" y="565" width="4" height="2"/><rect x="238" y="565" width="8" height="2"/></g><g fill="#008000"><rect x="257" y="565" width="4" height="2"/></g><g fill="#00ffff"><rect x="214" y="567" width="3" height="2"/></g><g fill="#ff0000"><rect x="217" y="567" width="3" height="2"/></g><g fill="#00ffff"><rect x="223" y="567" width="7" height="2"/></g><g fill="#ff0000"><rect x="233" y="567" width="5" height="2"/></g><g fill="#00bfff"><rect x="238" y="567" width="5" height="2"/></g><g fill="#ffd700"><rect x="209" y="569" width="2" height="4"/></g><g fill="#00bfff"><rect x="217" y="569" width="3" height="2"/></g><g fill="#ff0000"><rect x="223" y="569" width="7" height="2"/></g><g fill="#00ffff"><rect x="233" y="569" width="5" height="2"/></g><g fill="#008000"><rect x="261" y="569" width="3" height="6"/></g><g fill="#ba55d3"><rect x="264" y="569" width="4" height="2"/></g><g fill="#ff0000"><rect x="211" y="571" width="3" height="2"/><rect x="217" y="571" width="3" height="2"/></g><g fill="#ffb6c1"><rect x="220" y="571" width="3" height="2"/></g><g fill="#ff0000"><rect x="223" y="571" width="3" height="7"/></g><g fill="#00bfff"><rect x="226" y="571" width="4" height="4"/></g><g fill="#ff0000"><rect x="231" y="571" width="7" height="7"/></g><g fill="#00bfff"><rect x="243" y="571" width="3" height="2"/><rect x="250" y="571" width="3" height="2"/></g><g fill="#3c3cff"><rect x="264" y="571" width="4" height="2"/></g><g fill="#00ffff"><rect x="211" y="573" width="3" height="2"/></g><g fill="#ff0000"><rect x="214" y="573" width="3" height="3"/></g><g fill="#008000"><rect x="217" y="573" width="3" height="2"/></g><g fill="#ff0000"><rect x="220" y="573" width="3" height="5"/></g><g fill="#00bfff"><rect x="238" y="573" width="5" height="3"/></g><g fill="#ff0000"><rect x="243" y="573" width="3" height="3"/></g><g fill="#008000"><rect x="264" y="573" width="4" height="3"/></g><g fill="#00ffff"><rect x="206" y="575" width="5" height="1"/></g><g fill="#ff0000"><rect x="211" y="575" width="3" height="1"/><rect x="217" y="575" width="3" height="3"/><rect x="226" y="575" width="4" height="3"/></g><g fill="#00ffff"><rect x="231" y="575" width="2" height="1"/></g><g fill="#ffd700"><rect x="200" y="576" width="3" height="2"/><rect x="211" y="576" width="3" height="2"/></g><g fill="#00bfff"><rect x="214" y="576" width="3" height="2"/></g><g fill="#ba55d3"><rect x="250" y="576" width="3" height="2"/></g><g fill="#3c3cff"><rect x="292" y="506" width="5" height="4"/></g><g fill="#ba55d3"><rect x="301" y="506" width="5" height="2"/></g><g fill="#00ffff"><rect x="281" y="508" width="3" height="2"/></g><g fill="#ba55d3"><rect x="315" y="508" width="4" height="2"/></g><g fill="#00bfff"><rect x="277" y="510" width="4" height="2"/></g><g fill="#ffd700"><rect x="281" y="510" width="3" height="2"/></g><g fill="#00bfff"><rect x="292" y="510" width="5" height="3"/></g><g fill="#ffd700"><rect x="315" y="510" width="4" height="2"/></g><g fill="#008000"><rect x="281" y="512" width="3" height="1"/></g><g fill="#ffb6c1"><rect x="306" y="512" width="4" height="1"/></g><g fill="#ba55d3"><rect x="306" y="513" width="4" height="2"/></g><g fill="#00ffff"><rect x="315" y="513" width="4" height="2"/></g><g fill="#008000"><rect x="281" y="515" width="3" height="2"/><rect x="297" y="515" width="4" height="2"/></g><g fill="#ffd700"><rect x="310" y="515" width="5" height="2"/></g><g fill="#ffb6c1"><rect x="297" y="517" width="4" height="2"/></g><g fill="#008000"><rect x="301" y="517" width="9" height="2"/><rect x="277" y="519" width="4" height="2"/><rect x="288" y="519" width="4" height="4"/></g><g fill="#00bfff"><rect x="292" y="519" width="5" height="2"/></g><g fill="#ba55d3"><rect x="306" y="519" width="4" height="5"/></g><g fill="#ffd700"><rect x="315" y="519" width="4" height="2"/></g><g fill="#00ffff"><rect x="310" y="521" width="5" height="2"/></g><g fill="#008000"><rect x="281" y="524" width="3" height="2"/></g><g fill="#ffd700"><rect x="306" y="524" width="4" height="2"/></g><g fill="#008000"><rect x="288" y="526" width="4" height="6"/><rect x="297" y="526" width="9" height="2"/><rect x="292" y="528" width="5" height="2"/></g><g fill="#ba55d3"><rect x="297" y="528" width="4" height="2"/></g><g fill="#008000"><rect x="301" y="528" width="5" height="4"/></g><g fill="#ffb6c1"><rect x="315" y="528" width="4" height="2"/></g><g fill="#ffd700"><rect x="297" y="530" width="4" height="2"/></g><g fill="#008000"><rect x="277" y="532" width="7" height="2"/></g><g fill="#ffd700"><rect x="315" y="532" width="4" height="2"/></g><g fill="#ba55d3"><rect x="284" y="534" width="4" height="2"/></g><g fill="#00bfff"><rect x="288" y="534" width="4" height="3"/></g><g fill="#008000"><rect x="301" y="534" width="5" height="3"/><rect x="281" y="537" width="3" height="2"/><rect x="284" y="536" width="4" height="1"/></g><g fill="#00bfff"><rect x="284" y="537" width="4" height="6"/></g><g fill="#008000"><rect x="288" y="537" width="4" height="4"/></g><g fill="#ffb6c1"><rect x="306" y="537" width="4" height="2"/></g><g fill="#ffd700"><rect x="277" y="543" width="4" height="2"/></g><g fill="#3c3cff"><rect x="281" y="543" width="3" height="2"/></g><g fill="#00ffff"><rect x="315" y="543" width="4" height="2"/><rect x="277" y="546" width="4" height="1"/></g><g fill="#008000"><rect x="281" y="546" width="3" height="1"/></g><g fill="#00bfff"><rect x="281" y="547" width="3" height="2"/><rect x="284" y="546" width="4" height="1"/></g><g fill="#008000"><rect x="292" y="547" width="5" height="2"/></g><g fill="#00ffff"><rect x="315" y="546" width="4" height="1"/></g><g fill="#ffd700"><rect x="315" y="547" width="4" height="2"/></g><g fill="#00ffff"><rect x="315" y="549" width="4" height="1"/></g><g fill="#008000"><rect x="277" y="550" width="4" height="2"/></g><g fill="#00bfff"><rect x="281" y="550" width="3" height="4"/></g><g fill="#008000"><rect x="297" y="550" width="4" height="2"/></g><g fill="#ffd700"><rect x="315" y="550" width="4" height="6"/></g><g fill="#3c3cff"><rect x="272" y="552" width="5" height="2"/></g><g fill="#00ffff"><rect x="297" y="552" width="4" height="4"/></g><g fill="#008000"><rect x="277" y="554" width="4" height="6"/></g><g fill="#ffd700"><rect x="310" y="554" width="5" height="2"/></g><g fill="#3c3cff"><rect x="306" y="556" width="4" height="6"/><rect x="268" y="558" width="4" height="2"/><rect x="281" y="558" width="3" height="2"/></g><g fill="#008000"><rect x="268" y="560" width="4" height="2"/></g><g fill="#00bfff"><rect x="281" y="560" width="3" height="2"/></g><g fill="#ffb6c1"><rect x="284" y="560" width="4" height="2"/></g><g fill="#00ffff"><rect x="292" y="560" width="5" height="7"/></g><g fill="#ffd700"><rect x="301" y="560" width="5" height="3"/></g><g fill="#ffb6c1"><rect x="306" y="561.5" width="4" height="1"/></g><g fill="#008000"><rect x="272" y="563" width="5" height="8"/></g><g fill="#ffd700"><rect x="315" y="563" width="4" height="2"/></g><g fill="#008000"><rect x="277" y="565" width="4" height="2"/><rect x="288" y="565" width="4" height="2"/></g><g fill="#ffd700"><rect x="301" y="565" width="5" height="4"/></g><g fill="#3c3cff"><rect x="277" y="567" width="4" height="2"/></g><g fill="#00ffff"><rect x="288" y="567" width="4" height="8"/></g><g fill="#008000"><rect x="268" y="569" width="4" height="6"/></g><g fill="#00ffff"><rect x="277" y="569" width="4" height="2"/></g><g fill="#00bfff"><rect x="284" y="569" width="4" height="2"/></g><g fill="#ffb6c1"><rect x="310" y="569" width="9" height="2"/></g><g fill="#00ffff"><rect x="284" y="571" width="4" height="7"/></g><g fill="#ffd700"><rect x="292" y="571" width="5" height="2"/><rect x="315" y="571" width="4" height="2"/></g><g fill="#008000"><rect x="277" y="573" width="4" height="3"/></g><g fill="#00ffff"><rect x="292" y="573" width="5" height="3"/></g><g fill="#ffb6c1"><rect x="315" y="573" width="4" height="2"/></g><g fill="#00ffff"><rect x="281" y="575" width="3" height="1"/></g><g fill="#ffb6c1"><rect x="310" y="575" width="5" height="3"/></g><g fill="#ffd700"><rect x="315" y="575" width="4" height="1"/></g><g fill="#00ffff"><rect x="335" y="508" width="8" height="2"/></g><g fill="#ffd700"><rect x="335" y="510" width="8" height="2"/></g><g fill="#00ffff"><rect x="335" y="517" width="8" height="4"/></g><g fill="#ffd700"><rect x="335" y="523" width="8" height="1"/><rect x="335" y="530" width="8" height="2"/><rect x="335" y="537" width="8" height="4"/></g><g fill="#00ffff"><rect x="335" y="550" width="8" height="2"/></g><g fill="#3c3cff"><rect x="343" y="550" width="5" height="2"/></g><g fill="#ffd700"><rect x="335" y="552" width="8" height="8"/><rect x="343" y="554" width="5" height="2"/></g><g fill="#ffb6c1"><rect x="343" y="556" width="5" height="2"/></g><g fill="#ba55d3"><rect x="343" y="558" width="5" height="2"/></g><g fill="#ffd700"><rect x="343" y="560" width="5" height="2"/></g><g fill="#ffb6c1"><rect x="335" y="560" width="8" height="3"/></g><g fill="#00ffff"><rect x="335" y="563" width="8" height="2"/></g><g fill="#ffb6c1"><rect x="335" y="565" width="8" height="2"/><rect x="343" y="563" width="5" height="8"/><rect x="401" y="506" width="6" height="2"/><rect x="394" y="512" width="7" height="1"/><rect x="388" y="513" width="6" height="2"/><rect x="401" y="513" width="6" height="6"/><rect x="383" y="521" width="5" height="2"/><rect x="401" y="521" width="6" height="7"/><rect x="383" y="524" width="5" height="4"/><rect x="388" y="526" width="6" height="2"/><rect x="371" y="528" width="6" height="2"/><rect x="388" y="530" width="13" height="2"/><rect x="371" y="532" width="17" height="2"/><rect x="377" y="534" width="6" height="3"/><rect x="401" y="534" width="6" height="2"/><rect x="388" y="536" width="6" height="1"/><rect x="377" y="539" width="6" height="6"/><rect x="388" y="539" width="6" height="2"/><rect x="371" y="541" width="6" height="4"/><rect x="383" y="543" width="5" height="2"/><rect x="383" y="546" width="5" height="3"/><rect x="371" y="547" width="12" height="7"/><rect x="360" y="547" width="5" height="2"/><rect x="349" y="550" width="6" height="4"/><rect x="365" y="552" width="6" height="6"/><rect x="371" y="554" width="6" height="6"/><rect x="355" y="554" width="5" height="15"/><rect x="360" y="556" width="5" height="9"/><rect x="348" y="558" width="7" height="9"/><rect x="365" y="560" width="6" height="3"/><rect x="348" y="567" width="1" height="4"/></g><g fill="#ffd700"><rect x="360" y="508" width="5" height="2"/><rect x="377" y="513" width="6" height="2"/><rect x="365" y="515" width="6" height="2"/><rect x="383" y="515" width="5" height="2"/><rect x="371" y="517" width="12" height="2"/><rect x="388" y="519" width="6" height="2"/><rect x="349" y="521" width="6" height="2"/><rect x="371" y="521" width="6" height="3"/><rect x="349" y="524" width="6" height="2"/><rect x="360" y="526" width="17" height="2"/><rect x="355" y="528" width="5" height="6"/><rect x="365" y="528" width="6" height="8"/><rect x="377" y="528" width="6" height="2"/><rect x="388" y="528" width="6" height="2"/><rect x="371" y="530" width="6" height="2"/><rect x="360" y="532" width="5" height="2"/><rect x="349" y="534" width="6" height="2"/><rect x="383" y="534" width="5" height="2"/><rect x="371" y="534" width="6" height="2"/><rect x="349" y="537" width="6" height="4"/><rect x="365" y="537" width="12" height="2"/><rect x="383" y="537" width="5" height="6"/><rect x="371" y="539" width="6" height="2"/><rect x="360" y="541" width="5" height="4"/><rect x="349" y="543" width="11" height="2"/><rect x="349" y="546" width="6" height="3"/><rect x="377" y="546" width="6" height="1"/><rect x="365" y="549" width="6" height="3"/><rect x="377" y="549" width="6" height="1"/><rect x="355" y="550" width="5" height="2"/><rect x="360" y="552" width="5" height="2"/><rect x="348" y="554" width="7" height="4"/><rect x="377" y="554" width="6" height="2"/><rect x="360" y="556" width="5" height="2"/><rect x="348" y="560" width="1" height="2"/></g><g fill="#00ffff"><rect x="383" y="508" width="5" height="4"/><rect x="377" y="510" width="6" height="2"/><rect x="407" y="506" width="8" height="4"/><rect x="401" y="508" width="6" height="5"/><rect x="388" y="515" width="13" height="2"/><rect x="365" y="517" width="6" height="2"/><rect x="360" y="519" width="5" height="4"/><rect x="388" y="521" width="6" height="2"/><rect x="360" y="524" width="17" height="2"/><rect x="388" y="524" width="6" height="2"/><rect x="360" y="528" width="5" height="4"/><rect x="383" y="528" width="5" height="2"/><rect x="401" y="528" width="6" height="6"/><rect x="388" y="532" width="13" height="2"/><rect x="388" y="534" width="6" height="2"/><rect x="360" y="534" width="5" height="2"/><rect x="355" y="536" width="5" height="1"/><rect x="365" y="536" width="12" height="1"/><rect x="377" y="537" width="6" height="2"/><rect x="388" y="537" width="6" height="2"/><rect x="349" y="541" width="11" height="2"/><rect x="388" y="541" width="6" height="4"/><rect x="365" y="543" width="6" height="2"/><rect x="355" y="547" width="5" height="2"/><rect x="365" y="546" width="6" height="3"/><rect x="365" y="560" width="6" height="2"/><rect x="422" y="508" width="6" height="2"/><rect x="422" y="512" width="6" height="1"/><rect x="422" y="517" width="6" height="2"/></g><g fill="#3c3cff"><rect x="407" y="510" width="8" height="2"/></g><g fill="#ba55d3"><rect x="377" y="524" width="6" height="2"/></g><g fill="#00bfff"><rect x="394" y="528" width="7" height="2"/></g><g fill="#ba55d3"><rect x="355" y="537" width="5" height="2"/></g><g fill="#3c3cff"><rect x="360" y="546" width="5" height="1"/></g><g fill="#ba55d3"><rect x="355" y="549" width="5" height="1"/></g><g fill="#3c3cff"><rect x="348" y="550" width="1" height="2"/></g><g fill="#ba55d3"><rect x="348" y="558" width="1" height="2"/></g><g fill="#00bfff"><rect x="422" y="521" width="6" height="2"/></g><g fill="#ff0000"><rect x="261" y="434" width="3" height="3"/><rect x="264" y="434" width="4" height="1"/><rect x="246" y="439" width="4" height="2"/><rect x="261" y="445" width="3" height="3"/></g><g fill="#00ffff"><rect x="246" y="463" width="4" height="2"/></g><g fill="#00bfff"><rect x="246" y="469" width="4" height="2"/></g><g fill="#ff0000"><rect x="261" y="469" width="3" height="2"/><rect x="250" y="471" width="3" height="2"/><rect x="264" y="471" width="4" height="7"/><rect x="243" y="473" width="3" height="1"/></g><g fill="#00bfff"><rect x="246" y="473" width="4" height="1"/></g><g fill="#ff0000"><rect x="243" y="476" width="3" height="2"/></g><g fill="#00bfff"><rect x="243" y="480" width="3" height="4"/></g><g fill="#ff0000"><rect x="261" y="480" width="3" height="6"/></g><g fill="#ba55d3"><rect x="264" y="482" width="4" height="2"/></g><g fill="#ff0000"><rect x="250" y="487" width="3" height="2"/></g><g fill="#00ffff"><rect x="250" y="491" width="3" height="2"/></g><g fill="#ff0000"><rect x="261" y="493" width="3" height="2"/><rect x="238" y="497" width="5" height="3"/><rect x="264" y="497" width="4" height="2"/></g><g fill="#ffb6c1"><rect x="243" y="500" width="3" height="2"/></g><g fill="#ff0000"><rect x="243" y="502" width="3" height="2"/><rect x="264" y="502" width="4" height="2"/><rect x="261" y="504" width="3" height="2"/></g><g fill="#ba55d3"><rect x="272" y="434" width="5" height="1"/><rect x="301" y="434" width="5" height="1"/></g><g fill="#3c3cff"><rect x="284" y="435" width="4" height="2"/></g><g fill="#ba55d3"><rect x="284" y="437" width="4" height="2"/></g><g fill="#3c3cff"><rect x="272" y="439" width="5" height="2"/><rect x="284" y="439" width="4" height="6"/></g><g fill="#ba55d3"><rect x="272" y="441" width="5" height="2"/></g><g fill="#00bfff"><rect x="297" y="441" width="4" height="4"/></g><g fill="#008000"><rect x="315" y="441" width="4" height="2"/></g><g fill="#ba55d3"><rect x="272" y="445" width="5" height="3"/><rect x="284" y="445" width="4" height="3"/></g><g fill="#008000"><rect x="301" y="447" width="5" height="5"/></g><g fill="#ffb6c1"><rect x="297" y="452" width="9" height="2"/></g><g fill="#ba55d3"><rect x="272" y="454" width="5" height="2"/></g><g fill="#008000"><rect x="292" y="454" width="5" height="2"/><rect x="301" y="454" width="5" height="2"/></g><g fill="#ff0000"><rect x="268" y="456" width="4" height="2"/></g><g fill="#ba55d3"><rect x="277" y="456" width="4" height="2"/></g><g fill="#3c3cff"><rect x="281" y="456" width="3" height="2"/><rect x="277" y="458" width="4" height="2"/></g><g fill="#008000"><rect x="284" y="460" width="4" height="1"/></g><g fill="#ba55d3"><rect x="272" y="461" width="5" height="2"/><rect x="277" y="460" width="4" height="1"/></g><g fill="#3c3cff"><rect x="277" y="461" width="4" height="2"/></g><g fill="#ba55d3"><rect x="277" y="463" width="4" height="2"/><rect x="288" y="463" width="4" height="4"/></g><g fill="#00bfff"><rect x="297" y="463" width="4" height="2"/></g><g fill="#008000"><rect x="306" y="463" width="4" height="2"/></g><g fill="#3c3cff"><rect x="301" y="465" width="5" height="2"/></g><g fill="#00ffff"><rect x="335" y="463" width="8" height="2"/></g><g fill="#ba55d3"><rect x="272" y="467" width="5" height="2"/><rect x="268" y="469" width="4" height="2"/><rect x="277" y="469" width="4" height="5"/><rect x="288" y="469" width="4" height="2"/></g><g fill="#ff0000"><rect x="310" y="469" width="5" height="2"/></g><g fill="#ba55d3"><rect x="272" y="471" width="5" height="3"/></g><g fill="#3c3cff"><rect x="288" y="471" width="4" height="2"/></g><g fill="#00bfff"><rect x="292" y="471" width="5" height="2"/></g><g fill="#008000"><rect x="310" y="471" width="5" height="2"/></g><g fill="#00bfff"><rect x="281" y="473" width="3" height="1"/></g><g fill="#008000"><rect x="292" y="473" width="9" height="1"/><rect x="306" y="473" width="4" height="1"/></g><g fill="#ff0000"><rect x="268" y="474" width="4" height="4"/><rect x="281" y="474" width="3" height="2"/></g><g fill="#008000"><rect x="284" y="474" width="4" height="2"/><rect x="301" y="474" width="5" height="2"/><rect x="281" y="476" width="3" height="2"/></g><g fill="#00bfff"><rect x="297" y="476" width="4" height="2"/></g><g fill="#ba55d3"><rect x="277" y="478" width="4" height="4"/><rect x="315" y="478" width="4" height="2"/></g><g fill="#008000"><rect x="277" y="482" width="4" height="2"/><rect x="301" y="482" width="5" height="7"/><rect x="310" y="482" width="5" height="4"/><rect x="292" y="484" width="5" height="5"/><rect x="277" y="486" width="4" height="1"/></g><g fill="#ba55d3"><rect x="277" y="487" width="4" height="2"/></g><g fill="#00bfff"><rect x="306" y="487" width="4" height="2"/></g><g fill="#3c3cff"><rect x="292" y="489" width="5" height="2"/></g><g fill="#ffb6c1"><rect x="301" y="491" width="5" height="2"/></g><g fill="#00ffff"><rect x="272" y="493" width="5" height="2"/></g><g fill="#008000"><rect x="284" y="493" width="4" height="2"/><rect x="292" y="493" width="5" height="2"/></g><g fill="#ba55d3"><rect x="297" y="493" width="4" height="2"/></g><g fill="#3c3cff"><rect x="272" y="495" width="5" height="2"/></g><g fill="#ba55d3"><rect x="277" y="495" width="4" height="2"/></g><g fill="#008000"><rect x="297" y="495" width="4" height="2"/><rect x="306" y="495" width="4" height="9"/></g><g fill="#ba55d3"><rect x="272" y="497" width="5" height="3"/></g><g fill="#008000"><rect x="301" y="499" width="5" height="1"/></g><g fill="#ffb6c1"><rect x="310" y="500" width="5" height="2"/></g><g fill="#00bfff"><rect x="292" y="502" width="5" height="2"/></g><g fill="#008000"><rect x="297" y="502" width="4" height="4"/></g><g fill="#3c3cff"><rect x="355" y="463" width="10" height="2"/></g><g fill="#00bfff"><rect x="383" y="463" width="5" height="2"/></g><g fill="#00ffff"><rect x="355" y="465" width="5" height="2"/></g><g fill="#3c3cff"><rect x="371" y="465" width="6" height="2"/></g><g fill="#ba55d3"><rect x="377" y="467" width="6" height="2"/></g><g fill="#ffd700"><rect x="355" y="469" width="5" height="2"/></g><g fill="#00bfff"><rect x="388" y="469" width="6" height="2"/></g><g fill="#ffd700"><rect x="401" y="471" width="6" height="2"/><rect x="349" y="473" width="6" height="1"/></g><g fill="#00bfff"><rect x="394" y="473" width="7" height="1"/></g><g fill="#ffb6c1"><rect x="401" y="473" width="6" height="1"/></g><g fill="#3c3cff"><rect x="371" y="474" width="6" height="2"/></g><g fill="#ff0000"><rect x="394" y="474" width="7" height="2"/></g><g fill="#3c3cff"><rect x="349" y="476" width="6" height="2"/></g><g fill="#ffb6c1"><rect x="365" y="476" width="6" height="2"/></g><g fill="#ba55d3"><rect x="377" y="476" width="6" height="2"/></g><g fill="#ffd700"><rect x="388" y="476" width="6" height="2"/></g><g fill="#00ffff"><rect x="349" y="478" width="6" height="2"/></g><g fill="#ffd700"><rect x="377" y="478" width="6" height="2"/></g><g fill="#ba55d3"><rect x="388" y="478" width="6" height="2"/></g><g fill="#ffb6c1"><rect x="349" y="480" width="6" height="2"/></g><g fill="#00ffff"><rect x="377" y="480" width="6" height="2"/></g><g fill="#ba55d3"><rect x="383" y="480" width="5" height="4"/></g><g fill="#3c3cff"><rect x="388" y="480" width="6" height="2"/></g><g fill="#ba55d3"><rect x="360" y="482" width="5" height="2"/></g><g fill="#3c3cff"><rect x="377" y="482" width="6" height="2"/></g><g fill="#ffb6c1"><rect x="401" y="484" width="6" height="2"/></g><g fill="#ffd700"><rect x="365" y="486" width="6" height="1"/><rect x="355" y="487" width="5" height="2"/></g><g fill="#3c3cff"><rect x="360" y="487" width="5" height="2"/></g><g fill="#ba55d3"><rect x="365" y="487" width="6" height="2"/></g><g fill="#3c3cff"><rect x="371" y="487" width="6" height="2"/></g><g fill="#ffd700"><rect x="383" y="487" width="5" height="2"/></g><g fill="#00bfff"><rect x="394" y="487" width="7" height="2"/></g><g fill="#ba55d3"><rect x="371" y="489" width="6" height="2"/></g><g fill="#ff0000"><rect x="394" y="489" width="7" height="2"/></g><g fill="#00ffff"><rect x="401" y="491" width="6" height="2"/><rect x="371" y="493" width="6" height="2"/></g><g fill="#ffd700"><rect x="388" y="493" width="6" height="4"/></g><g fill="#ffb6c1"><rect x="401" y="493" width="6" height="2"/></g><g fill="#00ffff"><rect x="422" y="493" width="6" height="2"/></g><g fill="#ba55d3"><rect x="365" y="495" width="6" height="2"/></g><g fill="#ffd700"><rect x="422" y="495" width="6" height="2"/><rect x="349" y="497" width="6" height="2"/><rect x="371" y="497" width="6" height="2"/></g><g fill="#ffb6c1"><rect x="377" y="497" width="6" height="2"/></g><g fill="#3c3cff"><rect x="360" y="499" width="5" height="1"/></g><g fill="#ffd700"><rect x="377" y="499" width="6" height="1"/></g><g fill="#00ffff"><rect x="422" y="499" width="6" height="1"/></g><g fill="#ffd700"><rect x="360" y="500" width="5" height="2"/></g><g fill="#00ffff"><rect x="401" y="500" width="6" height="2"/></g><g fill="#00bfff"><rect x="422" y="500" width="6" height="2"/></g><g fill="#ffd700"><rect x="377" y="502" width="6" height="2"/></g><g fill="#ffb6c1"><rect x="401" y="502" width="6" height="4"/></g><g fill="#00ffff"><rect x="422" y="502" width="6" height="2"/></g><g fill="#ff0000"><rect x="231" y="362" width="2" height="1"/></g><g fill="#00bfff"><rect x="233" y="363" width="5" height="2"/></g><g fill="#ff0000"><rect x="261" y="362" width="3" height="1"/><rect x="264" y="363" width="4" height="2"/><rect x="223" y="365" width="3" height="2"/><rect x="231" y="365" width="2" height="4"/><rect x="226" y="369" width="4" height="1"/></g><g fill="#00ffff"><rect x="231" y="369" width="2" height="1"/></g><g fill="#ff0000"><rect x="231" y="370" width="2" height="2"/></g><g fill="#00bfff"><rect x="231" y="372" width="2" height="2"/></g><g fill="#ff0000"><rect x="223" y="374" width="7" height="2"/></g><g fill="#00ffff"><rect x="231" y="378" width="2" height="2"/></g><g fill="#ff0000"><rect x="264" y="378" width="4" height="2"/></g><g fill="#00ffff"><rect x="223" y="382" width="3" height="1"/><rect x="206" y="383" width="3" height="2"/></g><g fill="#ff0000"><rect x="226" y="383" width="4" height="4"/><rect x="211" y="385" width="3" height="2"/><rect x="264" y="385" width="4" height="2"/><rect x="214" y="387" width="3" height="4"/></g><g fill="#00bfff"><rect x="226" y="387" width="4" height="4"/></g><g fill="#ff0000"><rect x="261" y="387" width="3" height="2"/><rect x="206" y="389" width="3" height="4"/><rect x="217" y="389" width="3" height="6"/><rect x="214" y="393" width="3" height="3"/><rect x="209" y="396" width="2" height="2"/></g><g fill="#00ffff"><rect x="211" y="396" width="3" height="2"/></g><g fill="#00bfff"><rect x="214" y="396" width="3" height="2"/></g><g fill="#00ffff"><rect x="217" y="395" width="3" height="3"/><rect x="209" y="398" width="2" height="2"/></g><g fill="#ff0000"><rect x="211" y="398" width="3" height="2"/><rect x="206" y="400" width="5" height="2"/><rect x="214" y="400" width="3" height="2"/></g><g fill="#ffb6c1"><rect x="203" y="402" width="3" height="2"/></g><g fill="#ff0000"><rect x="209" y="402" width="2" height="2"/></g><g fill="#00ffff"><rect x="198" y="404" width="2" height="2"/></g><g fill="#ff0000"><rect x="203" y="404" width="3" height="2"/><rect x="198" y="406" width="2" height="2"/><rect x="200" y="408" width="3" height="1"/><rect x="209" y="408" width="2" height="1"/><rect x="195" y="411" width="3" height="2"/></g><g fill="#00bfff"><rect x="195" y="413" width="3" height="2"/></g><g fill="#ff0000"><rect x="200" y="413" width="3" height="4"/><rect x="206" y="415" width="3" height="2"/><rect x="264" y="415" width="4" height="4"/></g><g fill="#00ffff"><rect x="200" y="417" width="3" height="2"/></g><g fill="#00bfff"><rect x="203" y="417" width="3" height="2"/></g><g fill="#ff0000"><rect x="193" y="419" width="2" height="2"/><rect x="200" y="419" width="3" height="2"/><rect x="203" y="422" width="3" height="2"/><rect x="193" y="424" width="2" height="2"/><rect x="198" y="424" width="2" height="2"/><rect x="250" y="426" width="3" height="2"/></g><g fill="#3c3cff"><rect x="272" y="363" width="5" height="7"/></g><g fill="#ff0000"><rect x="268" y="365" width="4" height="2"/></g><g fill="#3c3cff"><rect x="272" y="372" width="5" height="6"/></g><g fill="#00bfff"><rect x="297" y="382" width="4" height="3"/></g><g fill="#008000"><rect x="306" y="383" width="4" height="2"/></g><g fill="#3c3cff"><rect x="310" y="385" width="5" height="2"/></g><g fill="#ba55d3"><rect x="272" y="389" width="5" height="2"/></g><g fill="#008000"><rect x="297" y="393" width="4" height="2"/><rect x="297" y="402" width="4" height="4"/></g><g fill="#ba55d3"><rect x="310" y="402" width="5" height="2"/></g><g fill="#00bfff"><rect x="297" y="406" width="4" height="2"/></g><g fill="#3c3cff"><rect x="315" y="408" width="4" height="1"/></g><g fill="#ff0000"><rect x="268" y="411" width="4" height="2"/></g><g fill="#3c3cff"><rect x="268" y="413" width="4" height="2"/></g><g fill="#ff0000"><rect x="277" y="413" width="4" height="2"/></g><g fill="#3c3cff"><rect x="315" y="419" width="4" height="2"/><rect x="315" y="422" width="4" height="4"/></g><g fill="#008000"><rect x="297" y="424" width="4" height="2"/></g><g fill="#00bfff"><rect x="297" y="426" width="4" height="4"/><rect x="315" y="430" width="4" height="2"/></g><g fill="#3c3cff"><rect x="315" y="432" width="4" height="2"/><rect x="272" y="432" width="5" height="2"/></g><g fill="#ff0000"><rect x="250" y="294" width="3" height="2"/></g><g fill="#00bfff"><rect x="238" y="322" width="5" height="2"/></g><g fill="#ff0000"><rect x="243" y="324" width="3" height="2"/><rect x="246" y="326" width="4" height="4"/><rect x="243" y="328" width="3" height="3"/><rect x="264" y="328" width="4" height="2"/><rect x="264" y="333" width="4" height="4"/><rect x="261" y="335" width="3" height="2"/><rect x="238" y="335" width="5" height="2"/></g><g fill="#00bfff"><rect x="238" y="337" width="5" height="2"/></g><g fill="#ff0000"><rect x="238" y="339" width="5" height="2"/></g><g fill="#ffb6c1"><rect x="238" y="341" width="5" height="2"/></g><g fill="#00ffff"><rect x="231" y="343" width="2" height="1"/></g><g fill="#ff0000"><rect x="243" y="343" width="3" height="1"/><rect x="231" y="346" width="2" height="2"/><rect x="264" y="348" width="4" height="2"/><rect x="233" y="352" width="5" height="2"/></g><g fill="#00bfff"><rect x="231" y="354" width="2" height="2"/></g><g fill="#ff0000"><rect x="226" y="359" width="4" height="2"/><rect x="261" y="357" width="3" height="5"/><rect x="231" y="361" width="2" height="1"/></g><g fill="#ba55d3"><rect x="310" y="313" width="5" height="2"/></g><g fill="#3c3cff"><rect x="310" y="318" width="5" height="4"/></g><g fill="#ff0000"><rect x="253" y="269.5" width="4" height="2.5"/><rect x="181" y="435" width="1.5" height="2"/></g>
</g>
<g stroke="#000" stroke-width="1.11">
<line x1="138.50" y1="793.5" x2="138.50" y2="798.36"/>
<line x1="230.50" y1="793.5" x2="230.50" y2="798.36"/>
<line x1="323.50" y1="793.5" x2="323.50" y2="798.36"/>
<line x1="415.50" y1="793.5" x2="415.50" y2="798.36"/>
<line x1="508.50" y1="793.5" x2="508.50" y2="798.36"/>
<line x1="600.50" y1="793.5" x2="600.50" y2="798.36"/>
<line x1="692.50" y1="793.5" x2="692.50" y2="798.36"/>
<line x1="785.50" y1="793.5" x2="785.50" y2="798.36"/>
<line x1="92.5" y1="793.50" x2="87.64" y2="793.50"/>
<line x1="92.5" y1="669.50" x2="87.64" y2="669.50"/>
<line x1="92.5" y1="545.50" x2="87.64" y2="545.50"/>
<line x1="92.5" y1="421.50" x2="87.64" y2="421.50"/>
<line x1="92.5" y1="298.50" x2="87.64" y2="298.50"/>
<line x1="92.5" y1="174.50" x2="87.64" y2="174.50"/>
</g>
<g stroke="#000" stroke-width="0.83">
<line x1="92.50" y1="793.5" x2="92.50" y2="796.28"/>
<line x1="115.50" y1="793.5" x2="115.50" y2="796.28"/>
<line x1="161.50" y1="793.5" x2="161.50" y2="796.28"/>
<line x1="184.50" y1="793.5" x2="184.50" y2="796.28"/>
<line x1="207.50" y1="793.5" x2="207.50" y2="796.28"/>
<line x1="253.50" y1="793.5" x2="253.50" y2="796.28"/>
<line x1="277.50" y1="793.5" x2="277.50" y2="796.28"/>
<line x1="300.50" y1="793.5" x2="300.50" y2="796.28"/>
<line x1="346.50" y1="793.5" x2="346.50" y2="796.28"/>
<line x1="369.50" y1="793.5" x2="369.50" y2="796.28"/>
<line x1="392.50" y1="793.5" x2="392.50" y2="796.28"/>
<line x1="438.50" y1="793.5" x2="438.50" y2="796.28"/>
<line x1="461.50" y1="793.5" x2="461.50" y2="796.28"/>
<line x1="484.50" y1="793.5" x2="484.50" y2="796.28"/>
<line x1="531.50" y1="793.5" x2="531.50" y2="796.28"/>
<line x1="554.50" y1="793.5" x2="554.50" y2="796.28"/>
<line x1="577.50" y1="793.5" x2="577.50" y2="796.28"/>
<line x1="623.50" y1="793.5" x2="623.50" y2="796.28"/>
<line x1="646.50" y1="793.5" x2="646.50" y2="796.28"/>
<line x1="669.50" y1="793.5" x2="669.50" y2="796.28"/>
<line x1="715.50" y1="793.5" x2="715.50" y2="796.28"/>
<line x1="739.50" y1="793.5" x2="739.50" y2="796.28"/>
<line x1="762.50" y1="793.5" x2="762.50" y2="796.28"/>
<line x1="92.5" y1="762.50" x2="89.72" y2="762.50"/>
<line x1="92.5" y1="731.50" x2="89.72" y2="731.50"/>
<line x1="92.5" y1="700.50" x2="89.72" y2="700.50"/>
<line x1="92.5" y1="638.50" x2="89.72" y2="638.50"/>
<line x1="92.5" y1="607.50" x2="89.72" y2="607.50"/>
<line x1="92.5" y1="576.50" x2="89.72" y2="576.50"/>
<line x1="92.5" y1="514.50" x2="89.72" y2="514.50"/>
<line x1="92.5" y1="483.50" x2="89.72" y2="483.50"/>
<line x1="92.5" y1="452.50" x2="89.72" y2="452.50"/>
<line x1="92.5" y1="390.50" x2="89.72" y2="390.50"/>
<line x1="92.5" y1="359.50" x2="89.72" y2="359.50"/>
<line x1="92.5" y1="329.50" x2="89.72" y2="329.50"/>
<line x1="92.5" y1="267.50" x2="89.72" y2="267.50"/>
<line x1="92.5" y1="236.50" x2="89.72" y2="236.50"/>
<line x1="92.5" y1="205.50" x2="89.72" y2="205.50"/>
<line x1="92.5" y1="143.50" x2="89.72" y2="143.50"/>
<line x1="92.5" y1="112.50" x2="89.72" y2="112.50"/>
</g>
<rect x="92.5" y="100.5" width="693.0" height="693.0" fill="none" stroke="#000" stroke-width="1.11"/>
<g font-size="16.67px">
<text x="138.40" y="815.12" text-anchor="middle">2</text>
<text x="230.80" y="815.12" text-anchor="middle">4</text>
<text x="323.20" y="815.12" text-anchor="middle">6</text>
<text x="415.60" y="815.12" text-anchor="middle">8</text>
<text x="508.00" y="815.12" text-anchor="middle">10</text>
<text x="600.40" y="815.12" text-anchor="middle">12</text>
<text x="692.80" y="815.12" text-anchor="middle">14</text>
<text x="785.20" y="815.12" text-anchor="middle">16</text>
<text x="82.95" y="799.20" text-anchor="end">0</text>
<text x="81.45" y="675.20" text-anchor="end">200</text>
<text x="82.35" y="552.20" text-anchor="end">400</text>
<text x="81.45" y="428.20" text-anchor="end">600</text>
<text x="81.45" y="304.20" text-anchor="end">800</text>
<text x="82.35" y="180.20" text-anchor="end">1000</text>
</g>
<text x="437.80" y="841.4" font-size="24px" text-anchor="middle">Frequency (MHz)</text>
<text transform="translate(27.5,447.70) rotate(-90)" font-size="24px" text-anchor="middle">Virtual height (km)</text>
<text x="426.5" y="31.9" font-size="28.8px" text-anchor="middle">NAL CADI - Mar 18 07:30:00 2026 UTC</text>
<rect x="816.5" y="82.00" width="30.0" height="90.00" fill="#00bfff" shape-rendering="crispEdges"/>
<rect x="816.5" y="172.00" width="30.0" height="90.00" fill="#00ffff" shape-rendering="crispEdges"/>
<rect x="816.5" y="262.00" width="30.0" height="90.00" fill="#ffd700" shape-rendering="crispEdges"/>
<rect x="816.5" y="352.00" width="30.0" height="90.00" fill="#ffb6c1" shape-rendering="crispEdges"/>
<rect x="816.5" y="442.00" width="30.0" height="90.00" fill="#ba55d3" shape-rendering="crispEdges"/>
<rect x="816.5" y="532.00" width="30.0" height="90.00" fill="#3c3cff" shape-rendering="crispEdges"/>
<rect x="816.5" y="622.00" width="30.0" height="90.00" fill="#ff0000" shape-rendering="crispEdges"/>
<rect x="816.5" y="712.00" width="30.0" height="90.50" fill="#008000" shape-rendering="crispEdges"/>
<rect x="816.5" y="82.5" width="30.0" height="720.00" fill="none" stroke="#000" stroke-width="1.11"/>
<g stroke="#000" stroke-width="1.11">
<line x1="846.5" y1="127.50" x2="851.36" y2="127.50"/>
<line x1="846.5" y1="217.50" x2="851.36" y2="217.50"/>
<line x1="846.5" y1="307.50" x2="851.36" y2="307.50"/>
<line x1="846.5" y1="397.50" x2="851.36" y2="397.50"/>
<line x1="846.5" y1="487.50" x2="851.36" y2="487.50"/>
<line x1="846.5" y1="577.50" x2="851.36" y2="577.50"/>
<line x1="846.5" y1="667.50" x2="851.36" y2="667.50"/>
<line x1="846.5" y1="757.50" x2="851.36" y2="757.50"/>
</g><g stroke="#000" stroke-width="0.83">
<line x1="846.5" y1="82.50" x2="849.80" y2="82.50"/>
<line x1="846.5" y1="172.50" x2="849.80" y2="172.50"/>
<line x1="846.5" y1="262.50" x2="849.80" y2="262.50"/>
<line x1="846.5" y1="352.50" x2="849.80" y2="352.50"/>
<line x1="846.5" y1="442.50" x2="849.80" y2="442.50"/>
<line x1="846.5" y1="532.50" x2="849.80" y2="532.50"/>
<line x1="846.5" y1="622.50" x2="849.80" y2="622.50"/>
<line x1="846.5" y1="712.50" x2="849.80" y2="712.50"/>
<line x1="846.5" y1="802.50" x2="849.80" y2="802.50"/>
</g>
<g font-size="16.67px">
<text x="855.52" y="132.60">NNE</text>
<text x="855.52" y="222.60">E</text>
<text x="855.52" y="312.60">SSE</text>
<text x="855.52" y="402.60">SSW</text>
<text x="855.52" y="492.60">W</text>
<text x="855.52" y="582.60">NNW</text>
<text x="855.52" y="672.60">Vertical</text>
<text x="855.52" y="762.60">X-mode</text>
</g>
<text transform="translate(943,442.50) rotate(-90)" font-size="24px" text-anchor="middle">Azimuth Direction</text>
</svg></body></html>
